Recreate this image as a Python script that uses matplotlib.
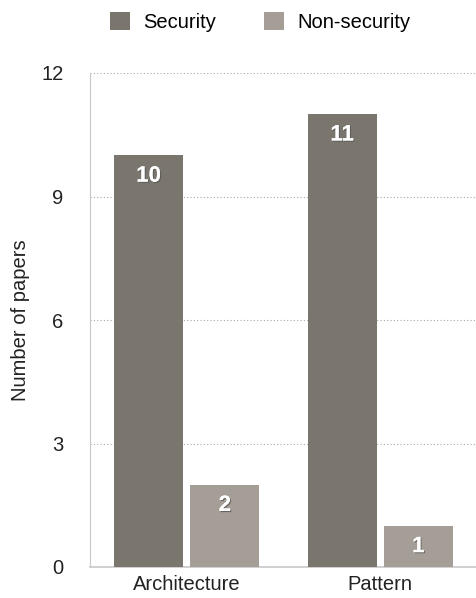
import numpy as np
import matplotlib.pyplot as plt
import matplotlib.patheffects as pe

plt.rcParams['font.family'] = ['Liberation Sans', 'DejaVu Sans']

categories = ['Architecture', 'Pattern']
security = [10, 11]
non_security = [2, 1]
series_names = ['Security', 'Non-security']
yticks = [0, 3, 6, 9, 12]

colors = ['#7a766e', '#a59e96']

fig = plt.figure(figsize=(4.77, 5.98), dpi=100)
ax = fig.add_axes([90 / 477, 31 / 598, 387 / 477, 494 / 598])

x = np.arange(len(categories))
width = 0.357
offset = 0.197

bars_sec = ax.bar(x - offset, security, width, color=colors[0], label=series_names[0], zorder=3)
bars_non = ax.bar(x + offset, non_security, width, color=colors[1], label=series_names[1], zorder=3)

# white value labels with a small drop shadow, just under the bar top
for bars, vals in [(bars_sec, security), (bars_non, non_security)]:
    for b, v in zip(bars, vals):
        ax.annotate(str(v), (b.get_x() + b.get_width() / 2, v), xytext=(0, -15),
                    textcoords='offset points', ha='center', va='center',
                    color='white', fontsize=16, fontweight='bold', zorder=4,
                    path_effects=[pe.withSimplePatchShadow(offset=(0.8, -0.8), alpha=0.7), pe.Normal()])

ax.set_xlim(-0.5, 1.5)
ax.set_ylim(0, 12)
ax.set_yticks(yticks)
ax.set_xticks(x)
ax.set_xticklabels(categories)
ax.tick_params(axis='both', length=0, labelsize=14.5, colors='#222222', pad=6)
ax.tick_params(axis='y', pad=19)
ax.yaxis.grid(True, linestyle=(0, (1, 2)), color='#a8a8a8', linewidth=0.8, zorder=0)

for side in ['top', 'right']:
    ax.spines[side].set_visible(False)
ax.spines['left'].set_color('#c8c8c8')
ax.spines['bottom'].set_color('#c8c8c8')
ax.spines['bottom'].set_linewidth(1.2)

ax.set_ylabel('Number of papers', fontsize=14.5, color='#222222', labelpad=8)

fig.legend(handles=[bars_sec, bars_non], labels=series_names, loc='upper center',
           bbox_to_anchor=(0.545, 1.01), ncol=2, frameon=False, fontsize=14.5,
           handlelength=1.0, handleheight=1.0, columnspacing=2.4, handletextpad=0.65)

fig.savefig('out.png', dpi=100)
